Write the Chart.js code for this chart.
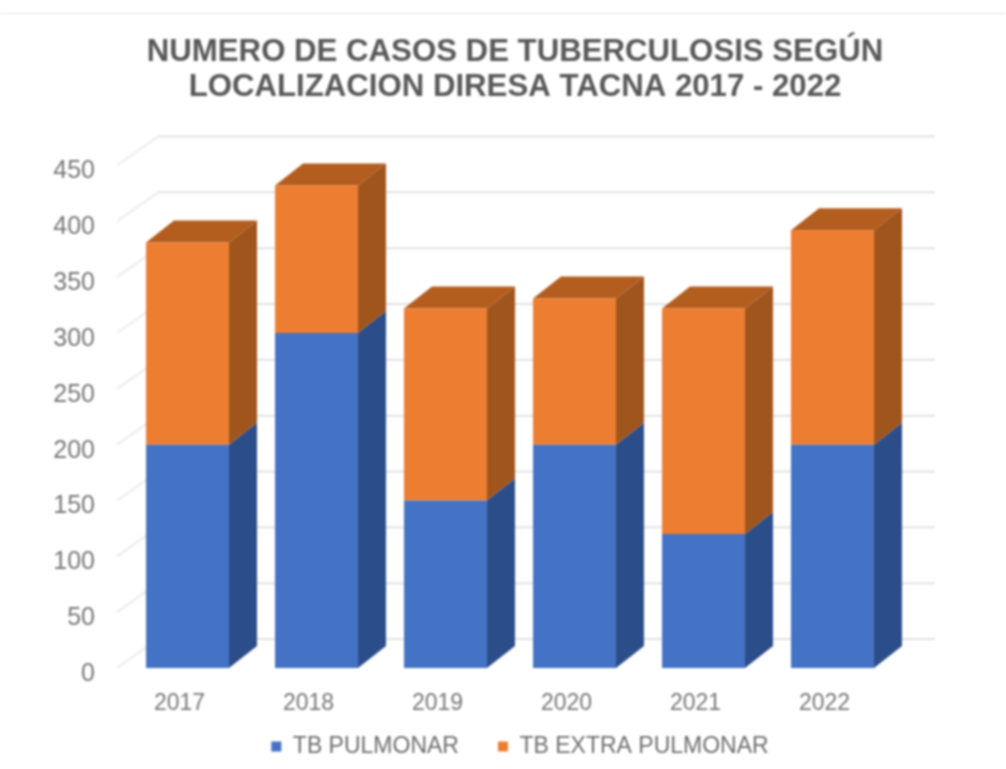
<!DOCTYPE html>
<html>
<head>
<meta charset="utf-8">
<title>Casos de tuberculosis</title>
<script src="https://cdn.jsdelivr.net/npm/chart.js@4/dist/chart.umd.min.js"></script>
<style>
	html, body { margin: 0; padding: 0; background: #fff; }
	canvas { display: block; filter: blur(0.8px); }
</style>
</head>
<body>
<canvas id="tbChart" width="1006" height="769"></canvas>
<script>
	const categories = ['2017', '2018', '2019', '2020', '2021', '2022'];
	const pulmonar = [200, 300, 150, 200, 120, 200];
	const extraPulmonar = [181, 132, 172, 131, 202, 192];
	const titleLines = ['NUMERO DE CASOS DE TUBERCULOSIS SEGÚN', 'LOCALIZACION DIRESA TACNA 2017 - 2022'];

	// fake 3D: side and top faces are drawn behind the bars, the back wall behind those
	const barDepth = { x: 28, y: -22 };
	const wallDepth = { x: 41, y: -29 };

	const fake3d = {
		id: 'fake3d',
		afterLayout(chart) {
			// legend sits a little right of the title in the original
			chart.legend.left += 5;
			chart.legend.right += 5;
			// x labels are clipped to the scale box, and the legend box overlaps it here
			chart.scales.x.bottom += 30;
		},
		beforeDraw(chart) {
			const c = chart.ctx;
			c.save();
			c.fillStyle = '#ffffff';
			c.fillRect(0, 0, chart.width, chart.height);
			c.strokeStyle = '#e6e6e6';
			c.lineWidth = 1;
			c.beginPath();
			c.moveTo(0, 13.5);
			c.lineTo(chart.width, 13.5);
			c.stroke();
			c.restore();
		},
		beforeDatasetsDraw(chart) {
			const c = chart.ctx;
			const yScale = chart.scales.y;
			const area = chart.chartArea;
			c.save();
			c.lineWidth = 2;
			yScale.ticks.forEach(t => {
				const y = yScale.getPixelForValue(t.value);
				c.strokeStyle = '#ececec';
				c.beginPath();
				c.moveTo(area.left - 6, y);
				c.lineTo(area.left - 6 + wallDepth.x, y + wallDepth.y);
				c.stroke();
				c.strokeStyle = '#e2e2e2';
				c.beginPath();
				c.moveTo(area.left - 6 + wallDepth.x, y + wallDepth.y);
				c.lineTo(area.right + wallDepth.x - 3, y + wallDepth.y);
				c.stroke();
			});

			const sides = ['#2b4d8a', '#a0551d'];
			chart.data.datasets.forEach((ds, i) => {
				chart.getDatasetMeta(i).data.forEach(bar => {
					const right = bar.x + bar.width / 2;
					c.fillStyle = sides[i];
					c.beginPath();
					c.moveTo(right, bar.base);
					c.lineTo(right + barDepth.x, bar.base + barDepth.y);
					c.lineTo(right + barDepth.x, bar.y + barDepth.y);
					c.lineTo(right, bar.y);
					c.closePath();
					c.fill();
				});
			});

			chart.getDatasetMeta(1).data.forEach(bar => {
				const left = bar.x - bar.width / 2;
				const right = bar.x + bar.width / 2;
				c.fillStyle = '#b35d1e';
				c.beginPath();
				c.moveTo(left, bar.y);
				c.lineTo(left + barDepth.x, bar.y + barDepth.y);
				c.lineTo(right + barDepth.x, bar.y + barDepth.y);
				c.lineTo(right, bar.y);
				c.closePath();
				c.fill();
			});
			c.restore();
		}
	};

	new Chart(document.getElementById('tbChart'), {
		type: 'bar',
		plugins: [fake3d],
		data: {
			labels: categories,
			datasets: [
				{ label: 'TB PULMONAR', data: pulmonar, backgroundColor: '#4472c4', yAxisID: 'y' },
				{ label: 'TB EXTRA PULMONAR', data: extraPulmonar, backgroundColor: '#ed7d31', yAxisID: 'y' }
			]
		},
		options: {
			responsive: false,
			animation: false,
			barPercentage: 0.643,
			categoryPercentage: 1,
			layout: { padding: { left: 24, right: 0, top: 0, bottom: 1 } },
			plugins: {
				title: {
					display: true,
					text: titleLines,
					color: '#595959',
					font: { family: 'Liberation Sans', size: 31.2, weight: 'bold', lineHeight: 1.13 },
					padding: { top: 35, bottom: 60 }
				},
				legend: {
					position: 'bottom',
					labels: {
						font: { family: 'Liberation Sans', size: 23 },
						color: '#6e6e6e',
						usePointStyle: true,
						pointStyle: 'rect',
						boxWidth: 10,
						boxHeight: 10,
						padding: 39
					}
				},
				tooltip: { enabled: false }
			},
			scales: {
				x: {
					stacked: true,
					grid: { display: false },
					border: { display: false },
					ticks: { color: '#777777', font: { family: 'Liberation Sans', size: 23 }, padding: 14, maxRotation: 0, labelOffset: -8 },
					afterFit(scale) { scale.height = 28; }
				},
				y: {
					stacked: true,
					min: 0,
					max: 450,
					grid: { display: false },
					border: { display: false },
					ticks: { stepSize: 50, color: '#777777', font: { family: 'Liberation Sans', size: 25 }, padding: 20, labelOffset: 6 },
					afterFit(scale) { scale.width = 99; }
				},
				yRight: {
					position: 'right',
					min: 0,
					max: 450,
					grid: { display: false },
					border: { display: false },
					ticks: { display: false },
					afterFit(scale) { scale.width = 109; }
				}
			}
		}
	});
</script>
</body>
</html>
